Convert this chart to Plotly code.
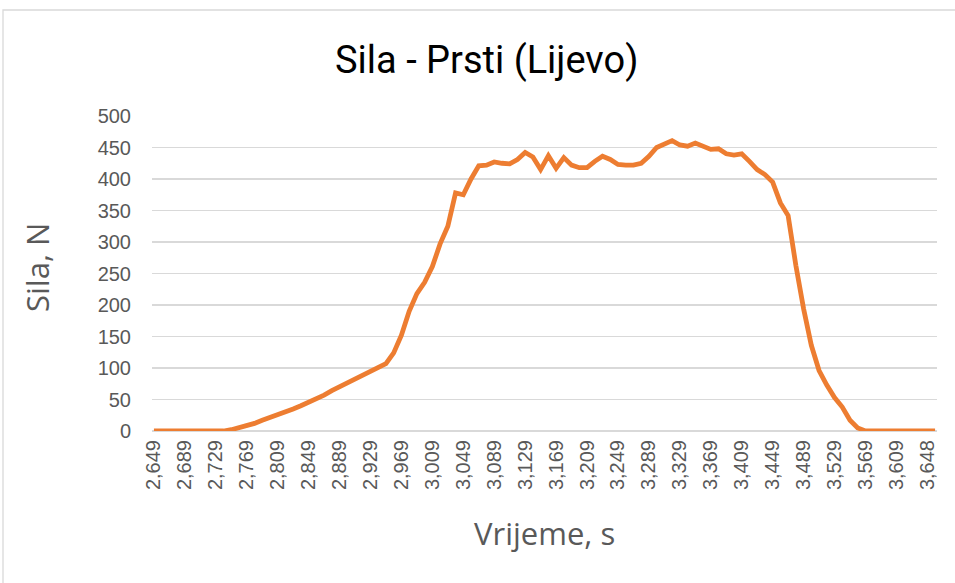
import plotly.graph_objects as go

# Tick labels (every 4th sample is labelled on the category axis)
tick_labels = ["2,649", "2,689", "2,729", "2,769", "2,809", "2,849", "2,889",
               "2,929", "2,969", "3,009", "3,049", "3,089", "3,129", "3,169",
               "3,209", "3,249", "3,289", "3,329", "3,369", "3,409", "3,449",
               "3,489", "3,529", "3,569", "3,609", "3,648"]

# Force values (N), one per sample
sila = [0, 0, 0, 0, 0, 0, 0, 0, 0, 0,
        2, 5, 8, 12, 17, 21, 25, 30, 35, 40,
        45, 51, 57, 64, 70, 76, 83, 88, 93, 99,
        107, 124, 152, 190, 218, 236, 261, 297, 325, 378,
        375, 400, 421, 422, 427, 425, 424, 431, 442, 435,
        415, 437, 417, 434, 422, 418, 418, 428, 436, 431,
        423, 422, 422, 425, 436, 450, 456, 461, 454, 452,
        457, 451, 447, 448, 440, 438, 440, 428, 415, 407,
        395, 362, 342, 263, 194, 136, 96, 73, 53, 38,
        17, 5, 0, 0, 0, 0, 0, 0, 0, 0,
        0, 0]

sample_idx = list(range(len(sila)))
tick_positions = sample_idx[::4][:len(tick_labels)]

W, H = 955, 583
L, R, T, B = 152, 18, 116, 152
pw, ph = W - L - R, H - T - B


def px(x):
    return (x - L) / pw


def py(y):
    return (H - B - y) / ph


fig = go.Figure()
fig.add_trace(go.Scatter(
    x=sample_idx, y=sila, mode="lines",
    line=dict(color="#ED7D31", width=4.8),
    hoverinfo="skip", showlegend=False,
))

tick_font = dict(family="Liberation Sans, Arial, sans-serif", size=20, color="#595959")

fig.update_layout(
    width=W, height=H,
    margin=dict(l=L, r=R, t=T, b=B),
    paper_bgcolor="white", plot_bgcolor="white",
    xaxis=dict(
        range=[-0.25, len(sila) - 1 + 0.25],
        tickmode="array", tickvals=tick_positions, ticktext=tick_labels,
        tickangle=-90, tickfont=tick_font, ticks="",
        showgrid=False, zeroline=False, showline=False,
        ticklabelstandoff=4,
    ),
    yaxis=dict(
        range=[0, 500], tickmode="array",
        tickvals=[0, 50, 100, 150, 200, 250, 300, 350, 400, 450, 500],
        tickfont=tick_font, ticks="",
        showgrid=True, gridcolor="#d9d9d9", gridwidth=1.3,
        zeroline=True, zerolinecolor="#d9d9d9", zerolinewidth=1.3,
        showline=False, ticklabelstandoff=20,
    ),
    shapes=[dict(
        type="rect", xref="paper", yref="paper", layer="below",
        x0=px(3), x1=px(W + 10), y0=py(H + 10), y1=py(10),
        line=dict(color="#d9d9d9", width=1.3), fillcolor="rgba(0,0,0,0)",
    )],
    annotations=[
        dict(text="Sila - Prsti (Lijevo)", xref="paper", yref="paper",
             x=px(486), y=py(60), showarrow=False, xanchor="center", yanchor="middle",
             font=dict(family="Roboto, sans-serif", size=38, color="#000000")),
        dict(text="Sila, N", xref="paper", yref="paper", textangle=-90,
             x=px(37), y=py(268), showarrow=False, xanchor="center", yanchor="middle",
             font=dict(family="Open Sans, sans-serif", size=31, color="#595959")),
        dict(text="Vrijeme, s", xref="paper", yref="paper",
             x=px(544), y=py(533), showarrow=False, xanchor="center", yanchor="middle",
             font=dict(family="Open Sans, sans-serif", size=31, color="#595959")),
    ],
)

fig.write_html("out.html",
               config={"displayModeBar": False, "staticPlot": True},
               post_script="document.body.style.margin='0px';document.body.style.overflow='hidden';")
